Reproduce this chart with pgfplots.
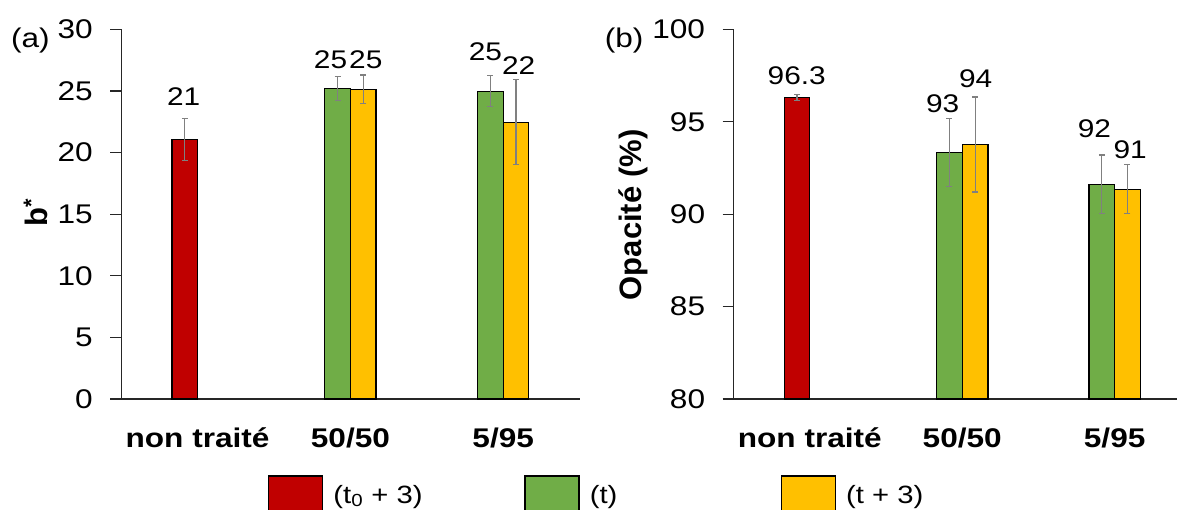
\documentclass[border=0pt]{standalone}
\usepackage{pgfplots}
\pgfplotsset{compat=1.18}
\usepackage{fontspec}
\setmainfont{Liberation Sans}[FakeStretch=1.17]
\newfontfamily\ylfont{Liberation Sans}
\definecolor{cRed}{HTML}{C00000}
\definecolor{cGreen}{HTML}{70AD47}
\definecolor{cYellow}{HTML}{FFC000}
\definecolor{cErr}{HTML}{808080}
\tikzset{dl/.style={font=\fontsize{25.5}{30}\selectfont, anchor=center}}
\begin{document}
\begin{tikzpicture}[x=1pt,y=1pt]
\useasboundingbox (0,0) rectangle (1177,509);
\pgfplotsset{
  common/.style={
    scale only axis,
    axis x line*=bottom,
    axis y line*=left,
    axis line style={black!85, line width=1.3pt},
    xtick={0,1,2},
    xticklabels={non traité, 50/50, 5/95},
    x tick style={draw=none},
    y tick style={black!85, line width=1.3pt},
    tick align=outside,
    major tick length=11pt,
    /pgf/number format/assume math mode=true,
    yticklabel style={font=\fontsize{27}{32}\selectfont, xshift=-14pt},
    xticklabel style={font=\fontsize{27}{32}\selectfont\bfseries, yshift=-14pt},
    ylabel style={font=\ylfont\fontsize{31}{34}\selectfont\bfseries, anchor=center},
    clip=false,
  },
  mybar/.style={ybar, bar width=25.6pt, bar shift=0pt, draw=black, line width=1.3pt,
    /pgfplots/error bars/y dir=both, /pgfplots/error bars/y explicit,
    /pgfplots/error bars/error bar style={color=cErr, line width=1.1pt},
    /pgfplots/error bars/error mark options={rotate=90, mark size=3pt, color=cErr, line width=1.1pt}},
}
% ---------------- (a)
\begin{axis}[common,
  at={(121.2pt,110pt)}, anchor=south west,
  width=458.4pt, height=369.7pt,
  xmin=-0.5, xmax=2.5, ymin=0, ymax=30,
  ytick={0,5,...,30},
  ylabel={b\textsuperscript{*}},
  ylabel style={at={(axis description cs:-0.186,0.505)}},
  legend style={at={(axis description cs:0.3202,-0.281)}, anchor=west,
    draw=none, fill=none, inner sep=0pt, legend columns=3,
    font=\fontsize{25}{30}\selectfont,
    nodes={inner sep=0pt},
    /tikz/every odd column/.append style={column sep=10pt}},
  legend image code/.code={\draw[#1,draw=black,line width=1.3pt] (0pt,-35pt) rectangle (54pt,19pt);},
]
\addplot[mybar, fill=cRed] table[x=x,y=y,y error=e,row sep=\\]{
x y e\\ -0.084 21.06 1.69\\};
\addlegendentry{\makebox[191pt][l]{(t\textsubscript{0} + 3)}}
\addplot[mybar, fill=cGreen] table[x=x,y=y,y error=e,row sep=\\]{
x y e\\ 0.916 25.19 1.00\\ 1.916 24.97 1.26\\};
\addlegendentry{\makebox[191pt][l]{(t)}}
\addplot[mybar, fill=cYellow] table[x=x,y=y,y error=e,row sep=\\]{
x y e\\ 1.084 25.14 1.15\\ 2.084 22.46 3.46\\};
\addlegendentry{\makebox[191pt][l]{(t + 3)}}
\node[dl] at (axis cs:-0.091,24.54) {21};
\node[dl] at (axis cs:0.870,27.52) {25};
\node[dl] at (axis cs:1.101,27.52) {25};
\node[dl] at (axis cs:1.884,28.14) {25};
\node[dl] at (axis cs:2.101,27.05) {22};
\node[font=\fontsize{27}{32}\selectfont, anchor=center] at (axis description cs:-0.198,0.969) {(a)};
\end{axis}
% ---------------- (b)
\begin{axis}[common,
  at={(733.6pt,110pt)}, anchor=south west,
  width=443.4pt, height=369.7pt,
  xmin=-0.5, xmax=2.409, ymin=80, ymax=100,
  ytick={80,85,...,100},
  ylabel={Opacité (\%)},
  ylabel style={at={(axis description cs:-0.227,0.498)}},
]
\addplot[mybar, fill=cRed] table[x=x,y=y,y error=e,row sep=\\]{
x y e\\ -0.084 96.31 0.14\\};
\addplot[mybar, fill=cGreen] table[x=x,y=y,y error=e,row sep=\\]{
x y e\\ 0.916 93.33 1.84\\ 1.916 91.62 1.58\\};
\addplot[mybar, fill=cYellow] table[x=x,y=y,y error=e,row sep=\\]{
x y e\\ 1.084 93.77 2.57\\ 2.084 91.35 1.32\\};
\node[dl] at (axis cs:-0.086,97.48) {96.3};
\node[dl] at (axis cs:0.872,95.96) {93};
\node[dl] at (axis cs:1.088,97.31) {94};
\node[dl] at (axis cs:1.867,94.61) {92};
\node[dl] at (axis cs:2.102,93.47) {91};
\node[font=\fontsize{27}{32}\selectfont, anchor=center] at (axis description cs:-0.247,0.969) {(b)};
\end{axis}
\end{tikzpicture}
\end{document}
